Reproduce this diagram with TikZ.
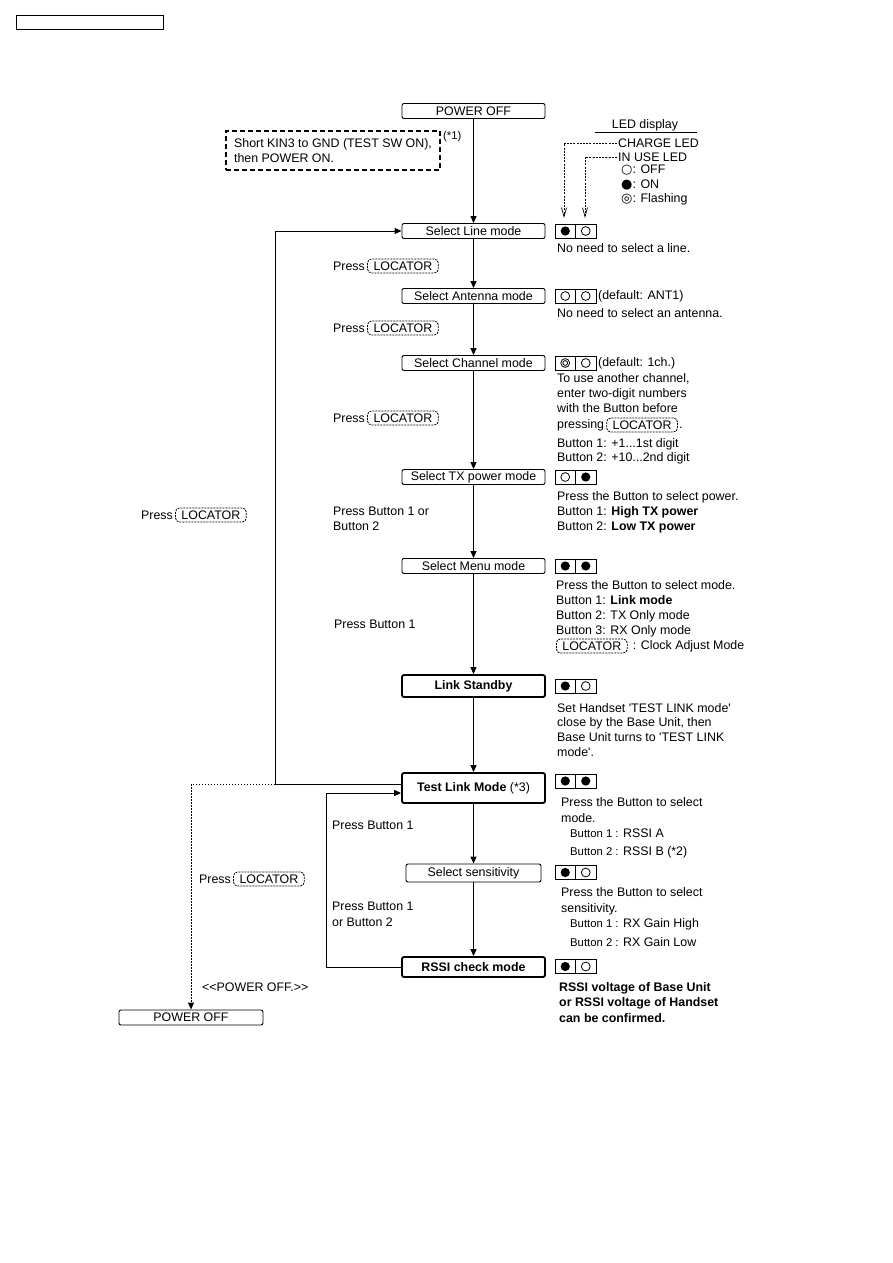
\documentclass[tikz,border=0pt]{standalone}
\usepackage{fontspec}
\newfontfamily\diagramfont{Liberation Sans}
\newfontfamily\symbolfont{DejaVu Sans}
\usetikzlibrary{arrows.meta,positioning,calc}
\newcommand{\Btn}[1]{{\fontsize{11.3}{13}\selectfont #1}}
\newcommand{\Sym}[1]{{\symbolfont\fontsize{13}{14}\selectfont #1}}
\tikzset {
  mode style/.style = {
    draw,
    rounded corners=2pt,
    line width=0.9pt,
    minimum width=143pt,
    minimum height=15pt,
    inner sep=0pt
  },
  strong mode style/.style = {mode style, line width=1.8pt},
  label style/.style = {anchor=west, inner sep=0pt, align=left},
  note style/.style = {anchor=north west, inner sep=0pt, align=left},
  locator style/.style = {
    draw,
    dash pattern=on 2pt off 1pt,
    line width=0.8pt,
    rounded corners=4pt,
    inner xsep=6pt,
    inner ysep=0pt,
    minimum height=14pt
  },
  dashed box style/.style = {
    draw,
    dash pattern=on 5pt off 3pt,
    line width=1.4pt,
    inner sep=0pt,
    align=left
  },
  flow arrow/.style = {line width=1pt, -{Triangle[length=7pt,width=6pt]}},
  dotted arrow/.style = {flow arrow, dash pattern=on 1.5pt off 1.5pt},
  led arrow/.style = {line width=0.7pt, dash pattern=on 2pt off 1.2pt,
    -{Straight Barb[length=9pt,width=5pt]}},
  pics/led on/.style = {code = {\fill (0,0) circle[radius=4.6];}},
  pics/led off/.style = {code = {\draw[line width=0.8pt] (0,0) circle[radius=4.4];}},
  pics/led flash/.style = {code = {
      \draw[line width=0.8pt] (0,0) circle[radius=4.4];
      \draw[line width=0.8pt] (0,0) circle[radius=2.4];
  }},
  pics/leds/.style 2 args = {
    code = {
      \draw[line width=1pt] (0,-7) rectangle (41,7) (20.5,-7) -- (20.5,7);
      \pic at (10.25,0) {led #1};
      \pic at (30.75,0) {led #2};
    }
  }
}

\begin{document}
\begin{tikzpicture}[x=1pt, y=-1pt,
  font=\diagramfont\fontsize{12.4}{15.2}\selectfont]
\useasboundingbox (0,0) rectangle (893,1263);

% --- Header ---
\draw[line width=1pt] (16,16) rectangle (163,30);

% --- Flow boxes ---
\node[mode style] (poweroff) at (473.5,111) {POWER OFF};
\node[mode style] (linemode) at (473.5,231) {Select Line mode};
\node[mode style] (antenna) at (473.5,296) {Select Antenna mode};
\node[mode style] (channel) at (473.5,363) {Select Channel mode};
\node[mode style] (txpower) at (473.5,477) {Select TX power mode};
\node[mode style] (menu) at (473.5,566) {Select Menu mode};
\node[strong mode style, minimum height=22pt] (standby) at (473.5,686) {\textbf{Link Standby}};
\node[strong mode style, minimum height=30pt] (testlink) at (473.5,788) {\textbf{Test Link Mode} (*3)};
\node[mode style, minimum width=135pt, minimum height=18pt] (sensitivity) at (473.5,873) {Select sensitivity};
\node[strong mode style, minimum height=20pt] (rssi) at (473.5,967) {\textbf{RSSI check mode}};
\node[mode style, minimum width=144pt] (poweroffB) at (191,1017.5) {POWER OFF};

\draw[flow arrow] (poweroff) -- (linemode);
\draw[flow arrow] (linemode) -- (antenna);
\draw[flow arrow] (antenna) -- (channel);
\draw[flow arrow] (channel) -- (txpower);
\draw[flow arrow] (txpower) -- (menu);
\draw[flow arrow] (menu) -- (standby);
\draw[flow arrow] (standby) -- (testlink);
\draw[flow arrow] (testlink) -- (sensitivity);
\draw[flow arrow] (sensitivity) -- (rssi);

% --- Test switch note ---
\node[dashed box style, minimum width=214pt, minimum height=39pt] (shortnote) at (333,150.5)
  {Short KIN3 to GND (TEST SW ON),\\then POWER ON.};
\node[note style] (note1) at (443,131) {\Btn{(*1)}};

% --- LED display legend ---
\node (leddisplay) at (645,125) {LED display};
\draw[line width=0.8pt] (595,132) -- (697,132);
\node[label style] (chargeled) at (618,143) {CHARGE LED};
\node[label style] (inuseled) at (618,157) {IN USE LED};
\node[note style, font=\diagramfont\fontsize{12.4}{14.5}\selectfont] (legend) at (621,165)
  {\Sym{○}: OFF\\\Sym{●}: ON\\\Sym{◎}: Flashing};
\coordinate (charge tip) at (564,218);
\coordinate (inuse tip) at (585,218);
\draw[led arrow] ([xshift=-1pt]chargeled.west) -| (charge tip);
\draw[led arrow] ([xshift=-1pt]inuseled.west) -| (inuse tip);

% --- LED states ---
\pic at (555,231) {leds={on}{off}};
\pic at (555,296) {leds={off}{off}};
\pic at (555,363) {leds={flash}{off}};
\pic at (555,477) {leds={off}{on}};
\pic at (555,566) {leds={on}{on}};
\pic at (555,686) {leds={on}{off}};
\pic at (555,781) {leds={on}{on}};
\pic at (555,872.5) {leds={on}{off}};
\pic at (555,966.5) {leds={on}{off}};

% --- Notes ---
\node[label style] (linenote) at (557,248) {No need to select a line.};
\node[label style] (antdefault) at (598,296) {(default: ANT1)};
\node[label style] (antnote) at (557,313) {No need to select an antenna.};
\node[label style] (chdefault) at (598,363) {(default: 1ch.)};
\node[note style] (chnote) at (557,373) {To use another channel,\\enter two-digit numbers\\with the Button before};
\node[label style] (pressing) at (557,425) {pressing};
\node[locator style, right=2pt of pressing] (chlocator) {LOCATOR};
\node[anchor=base west, inner sep=0pt] (chdot) at ([xshift=1pt]chlocator.east |- pressing.base) {.};
\node[note style, font=\diagramfont\fontsize{12.4}{14.5}\selectfont] (chbuttons) at (557,438)
  {Button 1: +1...1st digit\\Button 2: +10...2nd digit};

\node[note style] (txnote) at (557,491)
  {Press the Button to select power.\\Button 1: \textbf{High TX power}\\Button 2: \textbf{Low TX power}};
\node[note style] (menunote) at (556,580)
  {Press the Button to select mode.\\Button 1: \textbf{Link mode}\\Button 2: TX Only mode\\Button 3: RX Only mode};
\node[locator style, anchor=west] (menulocator) at (556,646) {LOCATOR};
\node[label style, right=5pt of menulocator] (clocknote) {: Clock Adjust Mode};

\node[note style, font=\diagramfont\fontsize{12.4}{14.7}\selectfont] (standbynote) at (557,703)
  {Set Handset 'TEST LINK mode'\\close by the Base Unit, then\\Base Unit turns to 'TEST LINK\\mode'.};
\node[note style, font=\diagramfont\fontsize{12.4}{16}\selectfont] (testnote) at (561,797)
  {Press the Button to select\\mode.};
\node[label style] (rssia) at (570,833) {\Btn{Button 1 :} RSSI A};
\node[label style] (rssib) at (570,852) {\Btn{Button 2 :} RSSI B (*2)};
\node[note style, font=\diagramfont\fontsize{12.4}{16}\selectfont] (sensnote) at (561,887)
  {Press the Button to select\\sensitivity.};
\node[label style] (gainhigh) at (570,924) {\Btn{Button 1 :} RX Gain High};
\node[label style] (gainlow) at (570,942) {\Btn{Button 2 :} RX Gain Low};
\node[note style, font=\diagramfont\fontsize{12.4}{15.5}\selectfont] (rssinote) at (559,982)
  {\textbf{RSSI voltage of Base Unit}\\\textbf{or RSSI voltage of Handset}\\\textbf{can be confirmed.}};

% --- Flow labels ---
\node[label style] (press1) at (333,266) {Press};
\node[locator style, right=2pt of press1] (locator1) {LOCATOR};
\node[label style] (press2) at (333,328) {Press};
\node[locator style, right=2pt of press2] (locator2) {LOCATOR};
\node[label style] (press3) at (333,418) {Press};
\node[locator style, right=2pt of press3] (locator3) {LOCATOR};
\node[note style] (txlabel) at (333,507) {Press Button 1 or\\Button 2};
\node[label style] (menulabel) at (334,624) {Press Button 1};
\node[label style] (press4) at (141,515) {Press};
\node[locator style, right=2pt of press4] (locator4) {LOCATOR};
\node[label style] (testlabel) at (332,825) {Press Button 1};
\node[label style] (press5) at (199,879) {Press};
\node[locator style, right=2pt of press5] (locator5) {LOCATOR};
\node[note style, font=\diagramfont\fontsize{12.4}{16}\selectfont] (senslabel) at (332,902)
  {Press Button 1\\or Button 2};
\node[label style] (offlabel) at (202,987) {<{}<POWER OFF.>{}>};

% --- Loops ---
\coordinate (loop top) at (275,784);
\coordinate (off corner) at (191,784);
\coordinate (loop low) at (326,793);
\draw[flow arrow] ([yshift=4pt]testlink.west) -- (loop top) |- (linemode.west);
\draw[dotted arrow] (loop top) -- (off corner) -- (poweroffB.north);
\draw[flow arrow] (rssi.west) -| (loop low) -- ([yshift=-5pt]testlink.west);

\end{tikzpicture}
\end{document}
